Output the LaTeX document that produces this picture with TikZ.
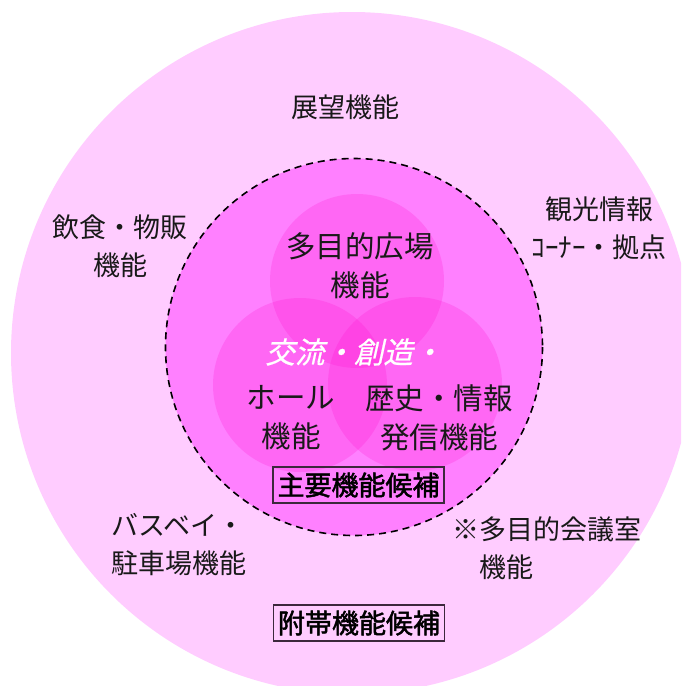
\documentclass[tikz,border=0pt]{standalone}
\usepackage{fontspec}
\setmainfont{Noto Sans CJK JP}
\newfontfamily\jpslant[FakeSlant=0.22,FakeBold=0.6]{Noto Sans CJK JP}
\newfontfamily\jpbold[FakeBold=1.8]{Noto Sans CJK JP}
\definecolor{outerpink}{RGB}{255,204,255}
\definecolor{innerpink}{RGB}{255,128,255}
\definecolor{venn}{RGB}{255,0,200}
\definecolor{boxline}{RGB}{60,40,60}
\tikzset{
  outerlbl/.style={inner sep=0pt, font=\fontsize{27}{38}\selectfont, align=center, text=black!90},
  innerlbl/.style={inner sep=0pt, font=\fontsize{29.5}{39}\selectfont, align=center, text=black!90},
  vennc/.style={fill=venn, fill opacity=0.19, draw=none},
  catbox/.style={draw=boxline, line width=1.3pt, minimum width=171pt, minimum height=36pt, inner sep=0pt, font=\jpbold\fontsize{27}{30}\selectfont}
}
\begin{document}
\begin{tikzpicture}[x=1pt,y=-1pt]
\useasboundingbox (0,0) rectangle (681,686);
\begin{scope}
\clip (0,0) rectangle (681,686);
\fill[outerpink] (352,353) circle (341);
\end{scope}
\fill[innerpink] (354,347) circle (188.5);
\fill[vennc] (357,281) circle (87);
\fill[vennc] (300,385) circle (87);
\fill[vennc] (415,384) circle (87);
\draw[black, line width=1.6pt, dash pattern=on 7pt off 5pt] (354,347) circle (188.5);

\node[outerlbl] (tenbo) at (345,107) {展望機能};
\node[outerlbl] (inshoku) at (120,246) {飲食・物販\\機能};
\node[outerlbl] (kanko) at (599,228) {観光情報\\ｺｰﾅｰ・拠点};
\node[outerlbl, align=left, anchor=west] (busbay) at (111,545) {バスベイ・\\駐車場機能};
\node[outerlbl, align=left, anchor=west] (kaigi) at (452,548) {※多目的会議室\\　機能};

\node[innerlbl] (hiroba) at (360,266) {多目的広場\\機能};
\node[innerlbl, text=white, font=\jpslant\fontsize{29.5}{39}\selectfont] (koryu) at (354,352) {交流・創造・};
\node[innerlbl] (hall) at (291,418) {ホール\\機能};
\node[innerlbl] (rekishi) at (439,418) {歴史・情報\\発信機能};

\node[catbox] (shuyo) at (358.5,485) {主要機能候補};
\node[catbox] (futai) at (359,623) {附帯機能候補};
\end{tikzpicture}
\end{document}
